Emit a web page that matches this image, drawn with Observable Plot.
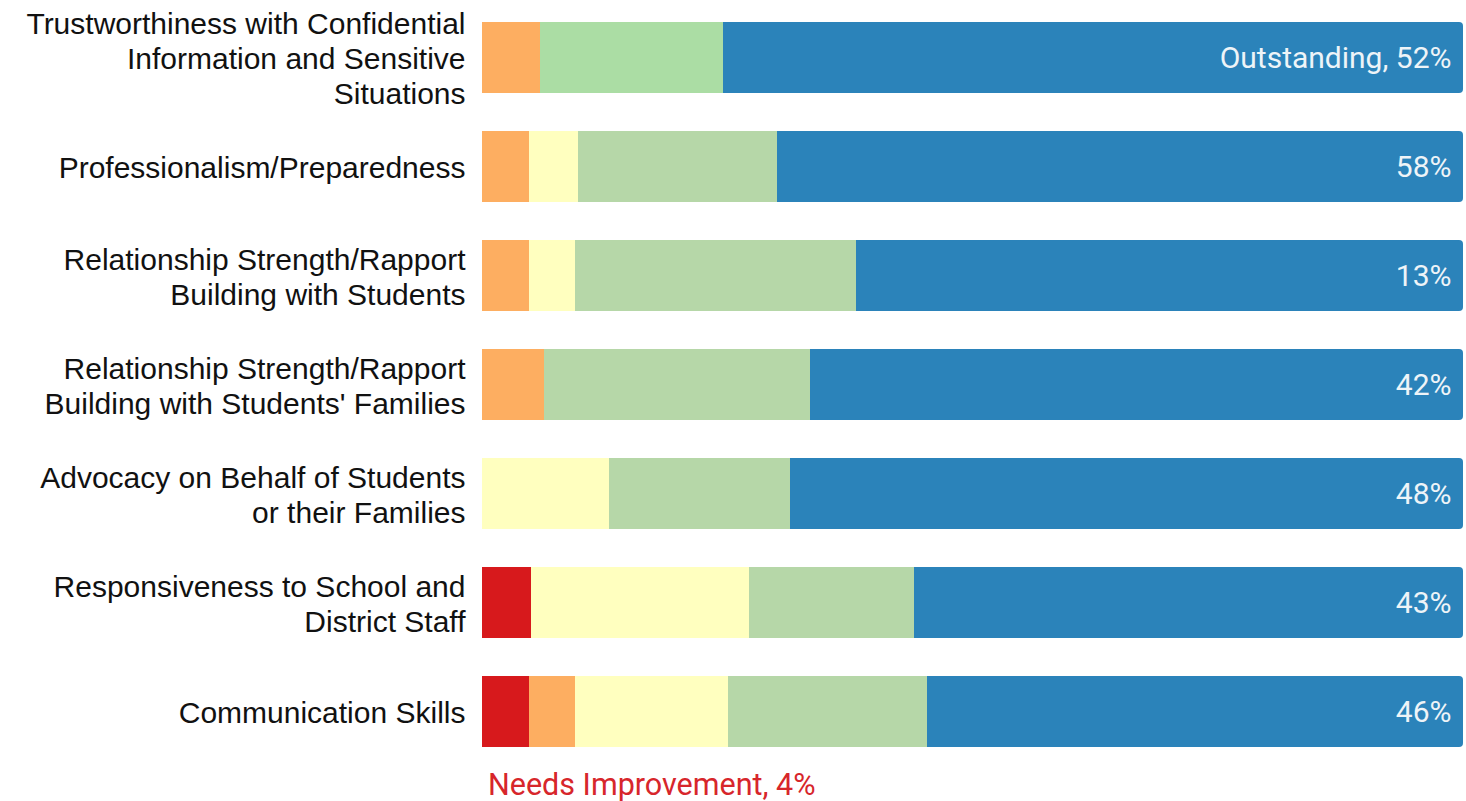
<!DOCTYPE html>
<html>
<head>
<meta charset="utf-8">
<script src="https://cdn.jsdelivr.net/npm/d3@7"></script>
<script src="https://cdn.jsdelivr.net/npm/@observablehq/plot@0.6"></script>
<style>
  html, body { margin: 0; padding: 0; background: #fff; }
  #caption { font-family: Roboto, sans-serif; font-size: 30.5px; color: #d7262b; margin-left: 488px; line-height: 34px; }
</style>
</head>
<body>
<div id="chart"></div>
<div id="caption"></div>
<script>
const categories = [
  "Trustworthiness with Confidential\nInformation and Sensitive\nSituations",
  "Professionalism/Preparedness",
  "Relationship Strength/Rapport\nBuilding with Students",
  "Relationship Strength/Rapport\nBuilding with Students' Families",
  "Advocacy on Behalf of Students\nor their Families",
  "Responsiveness to School and\nDistrict Staff",
  "Communication Skills"
];
const levels = ["Needs Improvement", "Below Average", "Average", "Good", "Outstanding"];
const needsImprovement = [0, 0, 0, 0, 0, 5.0, 4.8];
const belowAverage     = [5.9, 4.8, 4.8, 6.3, 0, 0, 4.7];
const average          = [0, 5.0, 4.7, 0, 12.9, 22.2, 15.6];
const good             = [18.7, 20.3, 28.6, 27.1, 18.5, 16.8, 20.3];
const outstanding      = [75.4, 69.9, 61.9, 66.6, 68.6, 56.0, 54.6];
const valueLabels = ["Outstanding, 52%", "58%", "13%", "42%", "48%", "43%", "46%"];
const captionText = "Needs Improvement, 4%";

const series = [needsImprovement, belowAverage, average, good, outstanding];
const colors = ["#d7191c", "#fdae61", "#ffffbf", "#b6d7a8", "#2b83ba"];
const highlightGood = "#abdda4";

const rows = [];
categories.forEach((c, i) => {
  levels.forEach((l, j) => rows.push({category: c, level: l, value: series[j][i], idx: i}));
});
const totals = categories.map((c, i) => ({
  category: c,
  total: series.reduce((s, arr) => s + arr[i], 0),
  label: valueLabels[i]
}));
const lower = rows.filter(d => d.level !== "Outstanding");

const chart = Plot.plot({
  width: 1466,
  height: 768,
  marginLeft: 482,
  marginRight: 3,
  marginTop: 0,
  marginBottom: 0,
  x: {domain: [0, 100], axis: null},
  y: {domain: categories, paddingInner: 0.35, paddingOuter: 0.18, label: null},
  color: {domain: levels, range: colors},
  marks: [
    Plot.barX(totals, {x1: 0, x2: "total", y: "category", fill: colors[4], rx: 4}),
    Plot.barX(lower, Plot.stackX({
      x: "value", y: "category",
      fill: d => (d.level === "Good" && d.idx === 0) ? highlightGood : colors[levels.indexOf(d.level)],
      shapeRendering: "crispEdges"
    })),
    Plot.text(totals, {
      x: "total", y: "category", text: "label", textAnchor: "end", dx: -12,
      fill: "#eef4f8", fontSize: 30, fontFamily: "Roboto"
    }),
    Plot.axisY({
      tickSize: 0, tickPadding: 17, fontSize: 30, lineHeight: 1.17,
      fontFamily: "Liberation Sans", fill: "#111", label: null
    })
  ]
});
document.getElementById("chart").appendChild(chart);
document.getElementById("caption").textContent = captionText;
</script>
</body>
</html>
